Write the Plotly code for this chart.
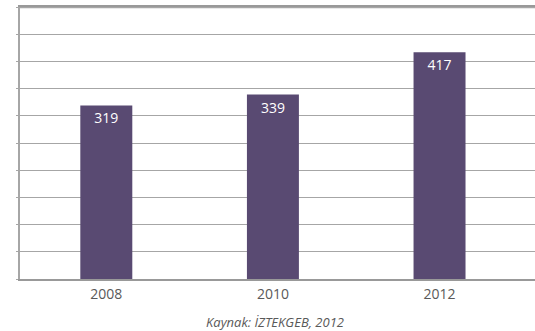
import plotly.graph_objects as go

years = ["2008", "2010", "2012"]
values = [319, 339, 417]
positions = [0, 1, 2]
y_max = 500

bar_color = "#594a72"
grid_color = "#a6a6a6"

x_range = [-0.518, 2.573]

fig = go.Figure(
    go.Bar(
        x=positions,
        y=values,
        width=0.312,
        marker=dict(color=bar_color, line=dict(width=0)),
        text=[str(v) for v in values],
        textposition="inside",
        insidetextanchor="end",
        textfont=dict(color="white", size=14, family="Open Sans"),
        cliponaxis=False,
    )
)

fig.add_shape(
    type="line", xref="paper", yref="y", x0=0, x1=1, y0=y_max - 1, y1=y_max - 1,
    line=dict(color=grid_color, width=1.2), layer="above",
)

fig.update_layout(
    width=535,
    height=331,
    margin=dict(l=20, r=0, t=7, b=52),
    paper_bgcolor="white",
    plot_bgcolor="white",
    showlegend=False,
    font=dict(family="Open Sans", color="#595959", size=14),
    xaxis=dict(
        range=x_range,
        tickmode="array",
        tickvals=positions,
        ticktext=years,
        showgrid=False,
        zeroline=False,
        showline=True,
        mirror=True,
        linecolor="#999999",
        linewidth=1.5,
        ticks="",
        ticklabelstandoff=1,
        tickfont=dict(size=14, color="#595959"),
        fixedrange=True,
    ),
    yaxis=dict(
        range=[0, y_max],
        dtick=50,
        showticklabels=False,
        showgrid=True,
        gridcolor=grid_color,
        gridwidth=1,
        zeroline=False,
        showline=True,
        linecolor=grid_color,
        linewidth=1.5,
        ticks="outside",
        ticklen=2,
        tickcolor=grid_color,
        fixedrange=True,
    ),
    annotations=[
        dict(
            text="<i>Kaynak: İZTEKGEB, 2012</i>",
            x=(275 - 20) / 515,
            xref="paper",
            y=-0.158,
            yref="paper",
            yanchor="middle",
            showarrow=False,
            font=dict(size=13, color="#595959", family="Open Sans"),
        )
    ],
)
fig.write_html(
    "out.html",
    config={"displayModeBar": False},
    post_script="document.body.style.margin='0';document.body.style.padding='0';document.body.style.overflow='hidden';",
)
